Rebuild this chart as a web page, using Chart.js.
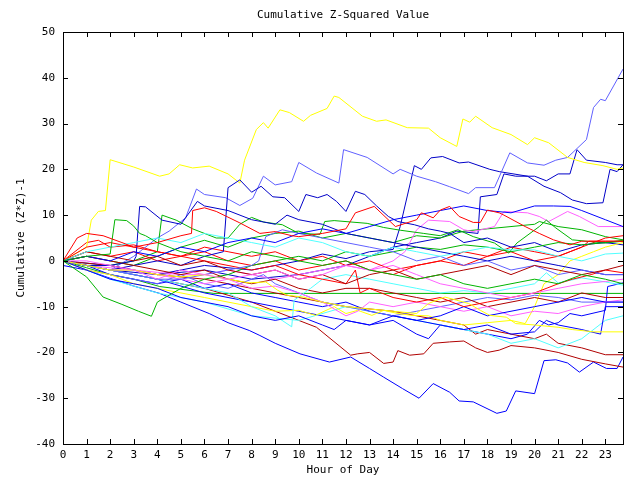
<!DOCTYPE html>
<html>
<head>
<meta charset="utf-8">
<script src="https://cdn.jsdelivr.net/npm/chart.js@4.4.1/dist/chart.umd.min.js"></script>
<style>
  html, body { margin: 0; padding: 0; background: #ffffff; }
  #wrap { width: 640px; height: 480px; }
</style>
</head>
<body>
<div id="wrap"><canvas id="chart" width="640" height="480"></canvas></div>
<script>
// Axis ticks
const hourTicks = [0, 1, 2, 3, 4, 5, 6, 7, 8, 9, 10, 11, 12, 13, 14, 15, 16, 17, 18, 19, 20, 21, 22, 23]
const valueTicks = [-40, -30, -20, -10, 0, 10, 20, 30, 40, 50]

// Series: [hour, cumulative value]
const yellowTop = [[0,0],[1,3],[1.2,8.9],[1.5,10.8],[1.8,11],[2,22.1],[3,20.5],[4.1,18.5],[4.5,19],[4.95,21],[5.5,20.3],[6.2,20.7],[7,19],[7.5,17],[7.7,22],[8.2,28.7],[8.5,30.2],[8.7,29],[9.2,33],[9.6,32.4],[10.2,30.5],[10.5,31.8],[11.2,33.3],[11.5,36],[11.7,35.7],[12.7,31.6],[13.3,30.5],[13.7,30.8],[14.6,29.1],[15.5,29],[16,26.9],[16.7,25],[16.96,31],[17.25,30.3],[17.5,31.6],[18.2,29.1],[19,27.6],[19.7,25.4],[20,26.9],[20.6,25.8],[21.4,22.6],[22.1,21.5],[22.9,20.8],[23.5,20],[23.75,20.3]]
const lightBlueHigh = [[0,0],[1,-1],[2,-2],[3,1],[4,5],[4.5,6.5],[5.2,9.4],[5.66,15.7],[6,14.5],[6.9,13.8],[7.5,12.1],[8.05,13.7],[8.5,18.5],[9,16.6],[9.7,17.3],[10,21.5],[10.75,19.2],[11.7,17],[11.9,24.3],[12.9,22.6],[14,19],[14.3,20],[15,18.5],[15.8,17.3],[16.4,16.2],[17.2,14.7],[17.5,16],[18.3,16],[18.95,23.6],[19.7,21.4],[20.4,20.9],[20.9,22],[21.4,22.6],[22.2,26.5],[22.5,33.5],[22.8,35.3],[23,35],[23.75,41.9]]
const darkBlueJump = [[0,0],[2,-2],[4,-3],[6,-1],[8,-2],[10,0],[11,1.5],[12,0.5],[13,2],[14,2.5],[14.3,7.5],[14.9,20.8],[15.2,20],[15.6,22.5],[16.1,22.8],[16.8,21.4],[17.2,21.6],[18.1,20],[18.5,19.5],[19.7,18.5],[20.4,16.3],[21.1,14.9],[21.6,13.3],[22.2,12.5],[22.9,12.7],[23.2,20],[23.5,19.5],[23.75,21]]
const darkBlueLate = [[0,0],[2,-1],[4,-3],[6,-2],[8,-4],[10,-3],[12,-1],[14,3],[15,4],[16,5],[16.7,6.5],[17.6,6],[17.7,14],[18.4,14.5],[18.7,19],[19.2,18.5],[20,18.5],[20.5,17.5],[21,19],[21.5,19],[21.8,24.3],[22.2,22],[23,21.5],[23.5,21],[23.75,21]]
const blueBottom = [[0,-1],[1,-2],[2,-3.8],[3,-5.5],[4.1,-7.1],[5,-9],[6.2,-11.5],[7,-13.5],[7.9,-15.2],[8.35,-16.3],[9,-18],[10.05,-20.3],[11.3,-22.1],[12.2,-21],[13,-23.5],[13.6,-25.4],[14.4,-27.9],[15.1,-30],[15.7,-26.8],[16.4,-28.7],[16.8,-30.6],[17.4,-30.8],[18.4,-33.3],[18.8,-32.8],[19.2,-28.4],[20,-29],[20.4,-21.8],[20.9,-21.6],[21.4,-22.3],[21.9,-24.3],[22.5,-22.1],[23.05,-23.5],[23.5,-23.5],[23.75,-21]]
const greenFlat = [[0,0],[1,-1.5],[2,-3],[3,-4],[4.1,-5.6],[5,-6.2],[6.4,-7.1],[23.75,-7.1]]
const greenLow = [[0,0],[1,-3.5],[1.7,-7.9],[2.5,-9.5],[3.2,-11],[3.75,-12.1],[4,-9],[4.5,-7.5],[5,-6],[6,-4],[7,-3],[8,-1],[9,0],[10,1],[11,0],[12,2],[13,1],[14,2],[15,3],[16,2.5],[17,3.5],[18,3],[19,2],[20,3],[21,4],[22,3.5],[23,4],[23.75,4.5]]
const greenEarly = [[0,0],[1,1],[2,1.5],[2.2,9],[2.7,8.8],[3,7.6],[3.25,6],[3.5,5.5],[4,4],[4.5,3],[5,2],[6,1],[7,0],[8,2],[9,1],[10,0],[11,-1],[12,0],[13,-2],[14,-3],[15,-4],[16,-3],[17,-5],[18,-6],[19,-5],[20,-4],[21,-5],[22,-3],[23,-4],[23.75,-5]]
const greenMid = [[0,0],[1,-1],[2,-1],[3,0],[4,2],[4.2,10],[4.8,8.9],[5.5,7],[6.5,5],[7,5],[7.5,8],[8,9.5],[8.5,8.5],[9.3,7.9],[10,6],[10.9,5.8],[11.1,8.6],[11.5,8.8],[12.9,8.2],[13.6,7.3],[14.3,6.7],[15.3,6],[16,5.5],[16.75,6.8],[17.4,5.3],[18.3,3.9],[18.9,1.7],[19.25,3.9],[20.2,7.5],[20.5,8.9],[20.9,7.2],[21.6,4.6],[23,3.9],[23.75,4.3]]
const greenSecond = [[0,0],[1,1],[2,0],[3,-1],[4,1],[5,3],[6,4.5],[7,3],[8,5],[9,6],[10,6.5],[11,5],[12,6],[13,5],[14,4],[15,5.5],[16,5],[17,6.5],[18,7],[19,7.5],[20,8],[20.2,8.6],[21,7.5],[22,6.8],[23,5.3],[23.75,4.6]]
const redHigh = [[0,0],[0.6,5],[1,6],[1.7,5.5],[2.5,4],[3,3],[4,4],[5,5.5],[5.45,6],[5.5,11],[6,11.6],[6.5,10.8],[7.5,8.3],[8.35,6],[9,6.4],[9.7,5.5],[10,5.3],[11,6],[12,7],[12.4,10.5],[13.2,11.9],[14.1,7.5],[15,9],[15.2,10.5],[15.7,9.4],[16,11.1],[16.4,11.9],[16.8,9.7],[17.4,8.4],[17.7,8.4],[18,11.1],[18.5,10.5],[18.7,10],[19.6,7.5],[20.2,6],[20.8,4.6],[21.5,3.5],[22,4.3],[23,4.3],[23.75,4.3]]
const yellowMid = [[0,0],[1,-1],[2,-2],[3,-2],[4,-3],[5,-3.5],[6,-3],[7,-4],[7.9,-4.8],[8.6,-4.6],[9.1,-6.4],[9.5,-7.5],[10.2,-7.9],[11,-9],[12,-10],[13,-10.5],[14,-11],[15,-11.5],[15.5,-9.3],[16.2,-7.9],[16.7,-8.6],[17.2,-9.3],[17.7,-10.8],[18.1,-11.9],[18.8,-12.3],[19.2,-13.7],[20,-14],[21,-14.5],[21.6,-15],[22.5,-15.5],[23.75,-15.5]]
const yellowLow = [[0,0],[1,-2],[2,-3],[3,-5],[4,-6],[5,-7],[6,-8],[7,-9],[8,-10],[9,-11],[10,-10.8],[10.7,-11.9],[11.5,-10],[12,-11.5],[12.5,-10.8],[13.1,-11.9],[13.6,-10.8],[14.2,-11.5],[14.8,-11.9],[15.5,-12],[16,-13],[17,-14],[18,-13.5],[19,-13],[19.6,-13.7],[20,-10],[20.4,-5],[21,-3],[21.5,0],[22,1],[22.5,2],[23,3],[23.75,4]]
const cyanHigh = [[0,0],[2,-2],[4,-3],[6,-4],[8,-2],[9,0],[10,2],[10.9,6],[11.5,10.5],[12,13.5],[13,11.5],[13.6,11.6],[14,15.2],[15,13.5],[16,11.6],[17,11.3],[18,9.7],[19,9.7],[19.7,12.8],[20.2,13.8],[21.4,11.3],[21.9,11],[22.5,17.7],[23.75,15.5]]
const cyanUpper = [[0,0],[1,2],[2,3],[3,4],[4,5],[5,4],[6,6],[7,5],[8,4],[9,3],[10,5],[11,4],[12,2],[13,1],[14,3],[15,2],[16,1],[17,2],[18,3],[19,2.4],[20,2.4],[21,1],[22,0],[23,1.5],[23.75,1.7]]
const cyanMid = [[0,0],[1,-1],[2,-2],[3,-3],[4,-4],[5,-5],[6,-6],[7,-7],[8,-10],[9,-12],[9.7,-14.4],[9.8,-8.6],[10.5,-6],[11,-4],[12,-3],[13,-4],[14,-5],[15,-6],[16,-7],[17,-6.5],[18,-7],[19,-6],[20,-5],[20.5,-2.6],[21,-4.8],[22,-3.7],[23,-4.6],[23.75,-5.3]]
const cyanLow = [[0,0],[2,-4],[4,-7],[6,-9],[8,-12],[10,-13],[12,-10],[14,-12],[16,-14],[18,-16],[19,-18],[20,-17],[21,-19],[22,-17],[23,-13],[23.75,-12]]
const pinkHigh = [[0,0],[1,-1],[2,-1.5],[3,-2],[4,-2.5],[5,-3],[6,-3],[7,-2],[8,-3],[9,-4],[10,-3],[11,-2],[12,-1],[13,-2],[14,0],[14.5,2],[15,6.8],[15.5,8.9],[16.4,8.6],[17,6.8],[17.4,6.4],[18.3,7.5],[18.7,10.8],[19.7,10.5],[20.2,9.7],[20.6,8.6],[21.4,10.8],[21.9,9.7],[22.7,7.5],[23.75,7.5]]
const pinkLow = [[0,0],[1,-1],[2,-2],[3,-2],[4,-3],[5,-4],[6,-5],[7,-4],[8,-6],[9,-5.5],[10,-7],[11,-9],[12,-12],[12.5,-11],[13,-9],[14,-10],[15,-9],[16,-10],[17,-11],[18,-10],[19,-12],[20,-11],[21,-11.5],[22,-10],[23,-9],[23.75,-8.5]]
const pinkMid = [[0,0],[1,0],[2,-1],[3,-2],[4,-4],[5,-2],[6,-3],[7,-4],[8,-3],[9,-2],[10,-4],[11,-3],[12,-1],[13,-2],[14,-1],[15,-3],[16,-5],[17,-6],[18,-7],[19,-8],[20,-7],[21,-6],[22,-5],[23,-4.5],[23.75,-4]]
const darkRedLow = [[0,0],[2,-2],[4,-4],[6,-6],[7,-7.5],[8,-9],[9,-11],[10,-13],[10.75,-14.5],[12.2,-20.6],[12.5,-20.3],[13,-20],[13.6,-22.4],[14,-22.1],[14.2,-19.6],[14.7,-20.6],[15.3,-20.3],[15.7,-18],[16.4,-17.7],[17,-17.5],[17.5,-19],[18,-20],[18.5,-19.5],[19,-18.5],[20,-19],[21,-20],[22,-21.5],[23,-22.5],[23.75,-23.2]]
const darkRedSecond = [[0,0],[2,-1],[4,-3],[6,-4],[8,-6],[10,-8],[12,-10],[14,-11],[15,-12],[16,-13],[17,-14],[17.5,-16],[18,-15],[19,-16],[20,-17],[20.5,-16],[21,-18],[22,-19],[23,-20.5],[23.75,-20.5]]
const darkRedMid = [[0,0],[1,1],[2,0],[3,-1],[4,-2],[5,-3],[6,-2],[7,-4],[8,-5],[9,-4],[10,-6],[11,-7],[12,-6],[13,-6],[14,-7],[15,-8],[16,-9],[17,-8],[18,-10],[19,-9],[20,-8],[21,-9],[22,-7],[23,-8],[23.75,-8]]
const darkRedUpper = [[0,0],[1,2],[2,1],[3,0],[4,1],[5,-1],[6,0],[7,-2],[8,-3],[9,-2],[10,-4],[11,-3],[12,-5],[13,-3],[14,-2],[15,-4],[16,-3],[17,-2],[18,-1],[19,-3],[20,-1],[21,-2],[22,-3],[23,-2],[23.75,-1]]
const redMid = [[0,0],[1,3],[2,4],[3,3],[4,2],[5,1],[6,0],[7,-1],[8,-2],[9,-1],[10,-3],[11,-4],[12,-5],[12.4,-2],[12.6,-7],[13,-6],[14,-8],[15,-9],[16,-8],[17,-10],[18,-9],[19,-8],[20,-7],[21,-5],[21.6,-4],[22.4,-3],[23,-2],[23.75,-2.6]]
const redFlat = [[0,0],[1,2],[2,1],[3,2],[4,0],[5,1],[6,3],[7,2],[8,1],[9,2],[10,0],[11,1],[12,-1],[13,0],[14,-2],[15,-1],[16,0],[17,2],[18,1],[19,3],[20,2],[21,1],[22,3],[22.3,4.3],[23.75,4.3]]
const redUpper = [[0,0],[1,4],[1.5,4.5],[2,3],[3,3.5],[4,2],[5,1],[6,2],[7,0],[8,-1],[9,0],[10,-2],[11,-1],[12,0],[13,-2],[14,-3],[15,-1],[16,0],[17,-1],[18,1],[19,2],[20,0],[21,1],[22,3],[23,5],[23.75,5.5]]
const blueUpper = [[0,0],[1,1],[2,0],[3,2],[4,1],[5,3],[6,2],[7,4],[8,5],[9,4],[10,6],[11,7],[12,6],[13,7.5],[14,9],[15,10],[16,11],[17,12],[18,11],[19,10.5],[20,12],[20.8,12],[21.5,11.9],[22,11],[23,9],[23.75,7.5]]
const blueLowJump = [[0,0],[1,-1],[2,-3],[3,-4],[4,-5],[5,-4],[6,-6],[7,-5],[8,-7],[9,-8],[10,-9],[11,-10],[12,-9],[13,-11],[14,-12],[15,-13],[16,-14],[17,-15],[18,-14],[19,-16],[20,-15.5],[20.5,-13],[21,-14],[22,-15],[22.8,-16],[23,-10],[23.75,-10]]
const blueMidJump = [[0,0],[2,-2],[4,-4],[6,-7],[8,-9],[10,-11],[12,-13],[13,-14],[14,-13],[15,-16],[15.5,-17],[16,-14],[17,-15],[18,-16],[19,-17],[19.7,-16],[20.2,-13],[20.6,-14],[21,-13.5],[21.5,-11.5],[22,-12],[23,-10.8],[23.1,-5.6],[23.75,-4.8]]
const blueMid = [[0,0],[1,-2],[2,-4],[3,-5],[4,-6],[5,-8],[6,-9],[7,-10],[8,-12],[9,-13],[10,-12],[11,-14],[11.5,-15],[12,-13],[13,-14],[14,-12],[15,-13],[16,-12],[17,-10],[18,-12],[19,-11],[20,-10],[21,-9],[22,-8],[23,-9],[23.75,-9]]
const darkBlueEarly = [[0,0],[1,-1],[2,-1],[3,0],[3.1,1],[3.25,11.9],[3.5,11.8],[4.2,8.9],[5,8],[5.7,13],[6,12],[7,11],[8,9],[9,8],[9.5,10],[10,9],[11,8],[12,6],[13,5],[14,4],[15,3],[16,2],[17,1],[18,0],[19,1],[20,0],[21,-1],[22,-2],[23,-3],[23.75,-3]]
const darkBlueMid = [[0,0],[1,-1],[2,-2],[3,-1],[4,0],[5,-1],[6,1],[6.8,2],[7,16],[7.5,17.7],[8,15],[8.4,16.3],[8.9,14],[9.4,13.8],[10,10.8],[10.3,14.5],[10.8,13.8],[11.2,14.5],[11.6,13],[12,10.8],[12.4,15.2],[12.8,14.5],[13.3,12],[13.8,9.7],[14.2,8.6],[14.9,7.9],[15.5,7],[16,6.5],[16.4,6],[17,4],[18,5],[19,3],[20,4],[21,2],[22,3.5],[23,4],[23.75,3.5]]
const lightBlueLow = [[0,0],[1,-2],[2,-3],[3,-4],[4,-5],[5,-3],[6,-5],[7,-6],[8,-4],[8.5,-3],[9,-5],[10,-7],[11,-9],[12,-10],[13,-11],[14,-12],[15,-11],[16,-10],[17,-9],[18,-8],[19,-8.5],[20,-7.5],[21,-8],[22,-9],[23,-9],[23.75,-9]]
const lightBlueMid = [[0,0],[1,-1],[2,-2],[3,-3],[4,-4],[5,-4],[6,-3],[7,-2],[8,-1],[8.3,0],[8.6,5.3],[9.3,6.8],[10,6],[11,5],[12,4],[13,3],[14,2],[15,0],[16,1],[17,-1],[18,0],[19,-2],[20,-1],[21,-3],[22,-2],[23,-3],[23.75,-3]]

const RED = "#ff0000", GREEN = "#00b400", BLUE = "#0000ff", DARKBLUE = "#0000c8"
const LIGHTBLUE = "#6060ff", PINK = "#ff60ff", CYAN = "#50ffff", YELLOW = "#ffff00", DARKRED = "#b00000"

const seriesList = [
  [redHigh, RED], [greenEarly, GREEN], [blueUpper, BLUE], [pinkMid, PINK], [cyanUpper, CYAN],
  [darkRedUpper, DARKRED], [yellowMid, YELLOW], [lightBlueMid, LIGHTBLUE], [darkBlueEarly, DARKBLUE],
  [redMid, RED], [greenLow, GREEN], [blueMid, BLUE], [pinkLow, PINK], [cyanMid, CYAN],
  [darkRedMid, DARKRED], [yellowLow, YELLOW], [lightBlueLow, LIGHTBLUE], [darkBlueMid, DARKBLUE],
  [redFlat, RED], [greenMid, GREEN], [blueLowJump, BLUE], [pinkHigh, PINK], [cyanLow, CYAN],
  [darkRedSecond, DARKRED], [yellowTop, YELLOW], [lightBlueHigh, LIGHTBLUE], [darkBlueJump, DARKBLUE],
  [redUpper, RED], [greenSecond, GREEN], [blueMidJump, BLUE], [darkRedLow, DARKRED],
  [darkBlueLate, DARKBLUE], [blueBottom, BLUE], [greenFlat, GREEN],
]

const FONT = { family: "'DejaVu Sans Mono', monospace", size: 11, lineHeight: 1.2 }

// Cadre et graduations vers l'intérieur (style gnuplot)
const framePlugin = {
  id: "frame",
  afterDatasetsDraw(chart) {
    const { ctx, chartArea: a, scales } = chart
    ctx.save()
    ctx.strokeStyle = "#000000"
    ctx.lineWidth = 1
    ctx.beginPath()
    hourTicks.forEach((h) => {
      const px = Math.round(scales.x.getPixelForValue(h)) + 0.5
      ctx.moveTo(px, a.bottom); ctx.lineTo(px, a.bottom - 5)
      ctx.moveTo(px, a.top); ctx.lineTo(px, a.top + 5)
    })
    valueTicks.forEach((v) => {
      const py = Math.round(scales.y.getPixelForValue(v)) + 0.5
      ctx.moveTo(a.left, py); ctx.lineTo(a.left + 5, py)
      ctx.moveTo(a.right, py); ctx.lineTo(a.right - 5, py)
    })
    ctx.stroke()
    ctx.strokeRect(Math.round(a.left) + 0.5, Math.round(a.top) + 0.5, Math.round(a.right - a.left), Math.round(a.bottom - a.top))
    ctx.restore()
  },
}

const datasets = seriesList.map(([pts, color]) => ({
  data: pts.map(([h, v]) => ({ x: h, y: v })),
  borderColor: color,
  borderWidth: 1,
  pointRadius: 0,
  tension: 0,
  fill: false,
}))

new Chart(document.getElementById("chart"), {
  type: "line",
  data: { datasets: datasets },
  plugins: [framePlugin],
  options: {
    responsive: false,
    animation: false,
    layout: { padding: { left: 0, right: 17, top: 0, bottom: 0 } },
    plugins: {
      legend: { display: false },
      tooltip: { enabled: false },
      title: {
        display: true,
        fullSize: false,
        text: "Cumulative Z-Squared Value",
        color: "#000000",
        font: { ...FONT, weight: "normal" },
        padding: { top: 9, bottom: 9.8 },
      },
    },
    scales: {
      x: {
        type: "linear",
        min: 0,
        max: 23.75,
        grid: { display: false, drawTicks: false },
        border: { display: false },
        afterFit: (s) => { s.height = 36 },
        ticks: {
          stepSize: 1,
          includeBounds: false,
          maxRotation: 0,
          autoSkip: false,
          padding: 5,
          color: "#000000",
          font: FONT,
        },
        title: {
          display: true,
          text: "Hour of Day",
          color: "#000000",
          font: FONT,
          padding: { top: 0, bottom: 3 },
        },
      },
      y: {
        min: -40,
        max: 50,
        grid: { display: false, drawTicks: false },
        border: { display: false },
        afterFit: (s) => { s.width = 63 },
        ticks: {
          stepSize: 10,
          padding: 8,
          color: "#000000",
          font: FONT,
        },
        title: {
          display: true,
          text: "Cumulative (Z*Z)-1",
          color: "#000000",
          font: FONT,
          padding: { top: 15, bottom: 0 },
        },
      },
    },
  },
})
</script>
</body>
</html>
